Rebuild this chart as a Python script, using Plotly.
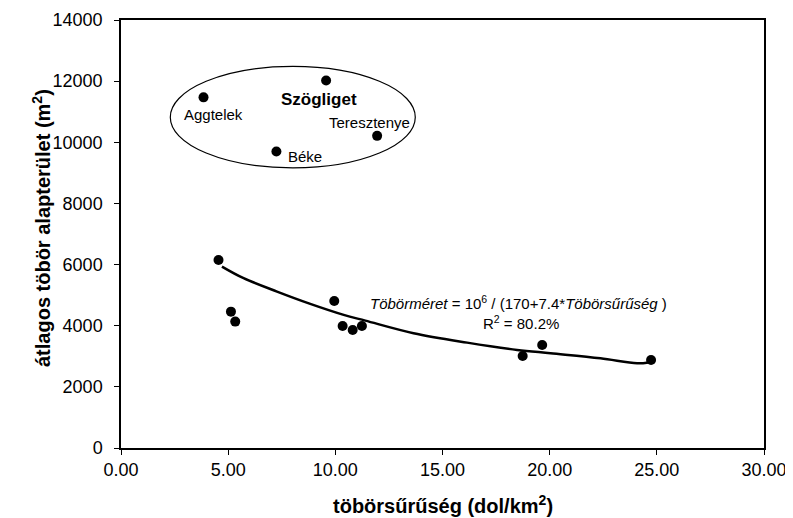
import plotly.graph_objects as go

# Data: töbör density (dol/km2) vs mean area (m2)
density = [3.85, 9.57, 11.95, 7.25, 4.55, 5.13, 5.33, 9.95, 10.34, 10.81, 11.24, 18.74, 19.65, 24.73]
area = [11470, 12020, 10210, 9700, 6150, 4460, 4135, 4810, 3990, 3860, 3990, 3010, 3370, 2880]

# Trend curve
curve_x = [4.71, 5.72, 7.28, 8.83, 10.39, 11.40, 13.65, 16.15, 18.48, 20.04, 22.37, 24.08, 24.61]
curve_y = [5935, 5555, 5116, 4714, 4354, 4167, 3755, 3447, 3208, 3100, 2936, 2772, 2800]

site_names = ["Aggtelek", "Szögliget", "Teresztenye", "Béke"]
site_label_x = [4.31, 9.23, 11.59, 8.58]
site_label_y = [10900, 11390, 10650, 9525]

x_ticks = [0, 5, 10, 15, 20, 25, 30]
y_ticks = [0, 2000, 4000, 6000, 8000, 10000, 12000, 14000]

FONT = "Liberation Sans, Arial, sans-serif"

fig = go.Figure()
fig.add_trace(go.Scatter(x=curve_x, y=curve_y, mode="lines",
                         line=dict(color="black", width=2.5, shape="spline"),
                         hoverinfo="skip", showlegend=False))
fig.add_trace(go.Scatter(x=density, y=area, mode="markers",
                         marker=dict(color="black", size=10),
                         showlegend=False))

# ellipse around the four outlier sites
fig.add_shape(type="circle", xref="x", yref="y", x0=2.30, x1=13.73, y0=9165, y1=12480,
              line=dict(color="black", width=1.2))

for i, name in enumerate(site_names):
    big = name == "Szögliget"
    fig.add_annotation(x=site_label_x[i], y=site_label_y[i], text=f"<b>{name}</b>" if big else name,
                       showarrow=False, xanchor="center", yanchor="middle",
                       font=dict(family=FONT, size=17 if big else 15, color="black"))

fig.add_annotation(x=11.54, y=4746, xanchor="left", yanchor="middle", showarrow=False,
                   text="<i>Töbörméret</i> = 10<sup>6</sup> / (170+7.4*<i>Töbörsűrűség</i> )",
                   font=dict(family=FONT, size=15, color="black"))
fig.add_annotation(x=18.64, y=4092, xanchor="center", yanchor="middle", showarrow=False,
                   text="R<sup>2</sup> = 80.2%",
                   font=dict(family=FONT, size=15, color="black"))

# axis titles
fig.add_annotation(xref="paper", yref="paper", x=-0.1244, y=0.514, textangle=-90,
                   showarrow=False, xanchor="center", yanchor="middle",
                   text="<b>átlagos töbör alapterület (m<sup>2</sup>)</b>",
                   font=dict(family=FONT, size=20, color="black"))
fig.add_annotation(xref="paper", yref="paper", x=0.5, y=-0.131,
                   showarrow=False, xanchor="center", yanchor="middle",
                   text="<b>töbörsűrűség (dol/km<sup>2</sup>)</b>",
                   font=dict(family=FONT, size=20, color="black"))

axis_common = dict(showline=True, linecolor="black", linewidth=1.5, mirror=True,
                   ticks="outside", tickcolor="black", ticklen=5, tickwidth=1.2,
                   showgrid=False, zeroline=False, automargin=False,
                   tickfont=dict(family=FONT, size=18, color="black"))

fig.update_layout(
    width=785, height=510,
    margin=dict(l=113, r=29, t=12, b=70),
    paper_bgcolor="white", plot_bgcolor="white",
    xaxis=dict(range=[0, 30], tickvals=x_ticks, tickformat=".2f", **axis_common),
    yaxis=dict(range=[0, 14000], tickvals=y_ticks, tickformat="d",
               ticklabelstandoff=8, **axis_common),
)

fig.write_html("out.html")
